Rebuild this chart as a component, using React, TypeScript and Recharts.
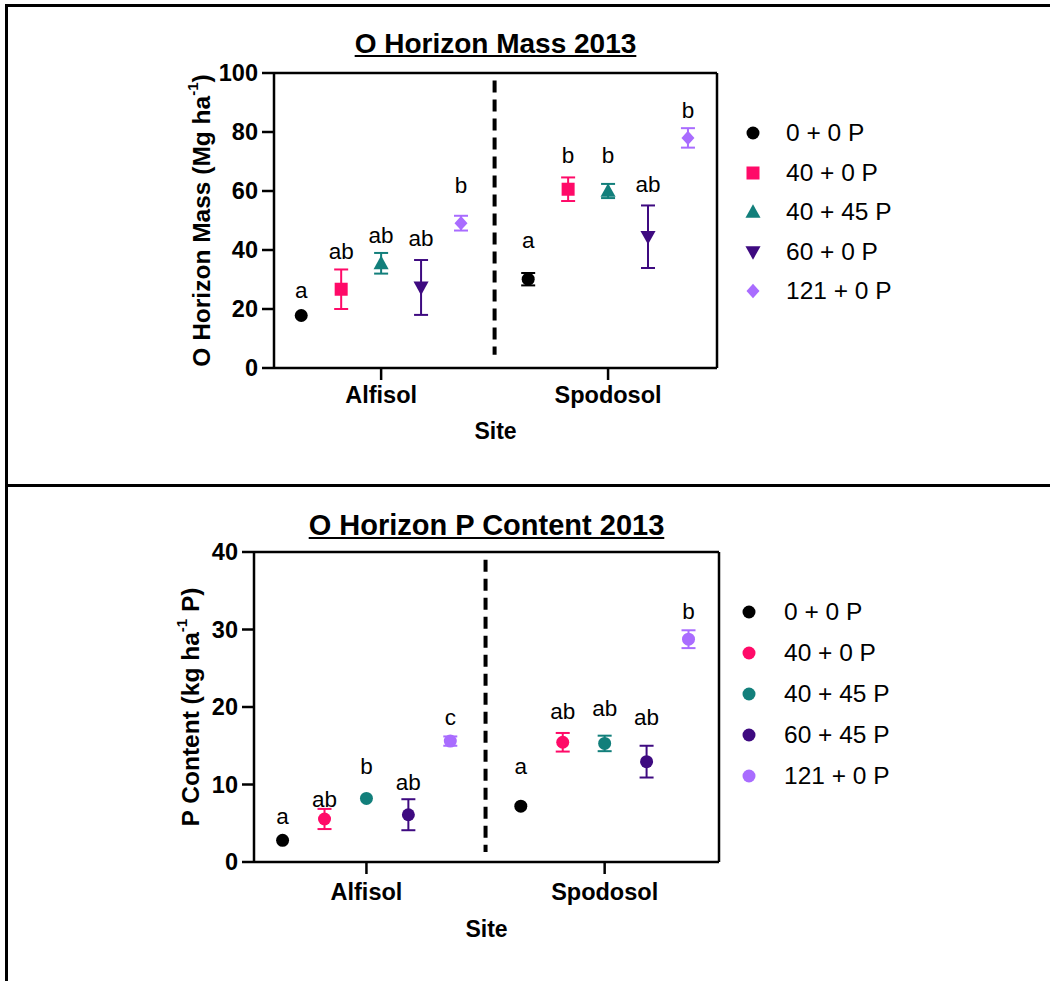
import React from 'react';
import { ScatterChart, Scatter, XAxis, YAxis, ErrorBar, ReferenceLine, Legend } from 'recharts';

// ---------- shared ----------
const siteNames = ['Alfisol', 'Spodosol'];
const siteTicks = [1, 2];
const treatmentColors = ['#000000', '#FF0A68', '#127F7B', '#3E0A80', '#A96CFF'];

// ---------- top chart: O Horizon Mass 2013 ----------
const massTreatments = ['0 + 0 P', '40 + 0 P', '40 + 45 P', '60 + 0 P', '121 + 0 P'];
const massShapes = ['circle', 'square', 'triangle', 'triangleDown', 'diamond'];
const massAlfisol = [17.8, 26.7, 35.5, 27.3, 49.1];
const massAlfisolErr = [0, 6.7, 3.5, 9.3, 2.5];
const massSpodosol = [30.1, 60.6, 60.0, 44.5, 78.0];
const massSpodosolErr = [2.1, 4.0, 2.4, 10.6, 3.3];
const massAlfisolLetters = ['a', 'ab', 'ab', 'ab', 'b'];
const massSpodosolLetters = ['a', 'b', 'b', 'ab', 'b'];
const massAlfisolLetterY = [23.7, 36.9, 42.3, 41.4, 59.2];
const massSpodosolLetterY = [40.6, 69.6, 69.6, 59.5, 84.6];
const massTicks = [0, 20, 40, 60, 80, 100];

// ---------- bottom chart: O Horizon P Content 2013 ----------
const pTreatments = ['0 + 0 P', '40 + 0 P', '40 + 45 P', '60 + 45 P', '121 + 0 P'];
const pShapes = ['circle', 'circle', 'circle', 'circle', 'circle'];
const pAlfisol = [2.8, 5.55, 8.2, 6.1, 15.6];
const pAlfisolErr = [0, 1.3, 0, 2.0, 0.6];
const pSpodosol = [7.2, 15.45, 15.3, 12.95, 28.75];
const pSpodosolErr = [0, 1.2, 1.0, 2.05, 1.15];
const pAlfisolLetters = ['a', 'ab', 'b', 'ab', 'c'];
const pSpodosolLetters = ['a', 'ab', 'ab', 'ab', 'b'];
const pAlfisolLetterY = [4.95, 7.1, 11.3, 9.25, 17.7];
const pSpodosolLetterY = [11.3, 18.5, 18.8, 17.7, 31.3];
const pTicks = [0, 10, 20, 30, 40];

const FONT = '"Liberation Sans", Arial, Helvetica, sans-serif';
const GROUP_STEP = 0.176;
const X_DOMAIN: [number, number] = [0.528, 2.48];

function Marker({ kind, cx, cy, color, s }: any) {
  if (cx == null || cy == null) return null;
  switch (kind) {
    case 'square':
      return <rect x={cx - s / 2} y={cy - s / 2} width={s} height={s} fill={color} />;
    case 'triangle':
      return (
        <polygon
          points={`${cx},${cy - s * 0.6} ${cx + s * 0.58},${cy + s * 0.45} ${cx - s * 0.58},${cy + s * 0.45}`}
          fill={color}
        />
      );
    case 'triangleDown':
      return (
        <polygon
          points={`${cx},${cy + s * 0.6} ${cx + s * 0.58},${cy - s * 0.45} ${cx - s * 0.58},${cy - s * 0.45}`}
          fill={color}
        />
      );
    case 'diamond':
      return (
        <polygon
          points={`${cx},${cy - s * 0.55} ${cx + s * 0.5},${cy} ${cx},${cy + s * 0.55} ${cx - s * 0.5},${cy}`}
          fill={color}
        />
      );
    default:
      return <circle cx={cx} cy={cy} r={s / 2} fill={color} />;
  }
}

function buildSeries(alf: number[], alfErr: number[], spo: number[], spoErr: number[]) {
  return alf.map((_, i) => [
    { x: siteTicks[0] + (i - 2) * GROUP_STEP, y: alf[i], err: alfErr[i] },
    { x: siteTicks[1] + (i - 2) * GROUP_STEP, y: spo[i], err: spoErr[i] },
  ]);
}

function buildLetters(alfL: string[], alfY: number[], spoL: string[], spoY: number[]) {
  const out: any[] = [];
  alfL.forEach((t, i) => out.push({ x: siteTicks[0] + (i - 2) * GROUP_STEP, y: alfY[i], t }));
  spoL.forEach((t, i) => out.push({ x: siteTicks[1] + (i - 2) * GROUP_STEP, y: spoY[i], t }));
  return out;
}

function LetterShape(p: any) {
  const t = p.payload?.t ?? p.t;
  return (
    <text x={p.cx} y={p.cy} textAnchor="middle" fontSize={22.5} fontFamily={FONT} fill="#000">
      {t}
    </text>
  );
}

function makeLegend(names: string[], shapes: string[], left: number, top: number, rowH: number, gap: number) {
  return (
    <Legend
      layout="vertical"
      align="center"
      verticalAlign="middle"
      wrapperStyle={{ position: 'absolute', left, top, width: 240 }}
      content={() => (
        <div style={{ fontFamily: FONT }}>
          {names.map((n, i) => (
            <div key={n} style={{ height: rowH, display: 'flex', alignItems: 'center' }}>
              <svg width={26} height={26} style={{ display: 'block' }}>
                <Marker kind={shapes[i]} cx={13} cy={13} color={treatmentColors[i]} s={13} />
              </svg>
              <span style={{ marginLeft: gap, fontSize: 24.5, color: '#000', whiteSpace: 'pre' }}>{n}</span>
            </div>
          ))}
        </div>
      )}
    />
  );
}

function YTitle({ viewBox, cx, main, tail }: any) {
  const vb = viewBox || {};
  const cy = vb.y + vb.height / 2;
  return (
    <text
      x={cx}
      y={cy}
      transform={`rotate(-90, ${cx}, ${cy})`}
      textAnchor="middle"
      dominantBaseline="central"
      fontSize={24.5}
      fontWeight="bold"
      fontFamily={FONT}
      fill="#000"
    >
      <tspan>{main}</tspan>
      <tspan dy={-9} fontSize={15}>-1</tspan>
      <tspan dy={9}>{tail}</tspan>
    </text>
  );
}

const axisStroke = { stroke: '#000', strokeWidth: 2.5 };
const tickStyle = { fill: '#000', fontSize: 23.5, fontWeight: 'bold', fontFamily: FONT };

function Panel({
  width, height, margin, series, shapes, names, letters, yDomain, yTicks, dashTop, dashBottom,
  yTitleX, yMain, yTail, legendLeft, legendTop, legendRowH, legendGap, siteOffset, xTickMargin,
}: any) {
  return (
    <ScatterChart width={width} height={height} margin={margin}>
      <XAxis
        type="number"
        dataKey="x"
        domain={X_DOMAIN}
        allowDataOverflow
        ticks={siteTicks}
        tickFormatter={(v: number) => siteNames[siteTicks.indexOf(v)] ?? ''}
        axisLine={axisStroke}
        tickLine={axisStroke}
        tickSize={12}
        tickMargin={xTickMargin}
        tick={tickStyle}
        height={30}
        label={{
          value: 'Site',
          position: 'bottom',
          offset: siteOffset,
          style: { fill: '#000', fontSize: 23, fontWeight: 'bold', fontFamily: FONT },
        }}
      />
      <YAxis
        type="number"
        dataKey="y"
        domain={yDomain}
        allowDataOverflow
        ticks={yTicks}
        axisLine={axisStroke}
        tickLine={axisStroke}
        tickSize={12}
        tickMargin={4}
        tick={tickStyle}
        width={60}
        label={{ content: (p: any) => <YTitle viewBox={p.viewBox} cx={yTitleX} main={yMain} tail={yTail} /> }}
      />
      <ReferenceLine y={yDomain[1]} stroke="#000" strokeWidth={2.5} />
      <ReferenceLine x={X_DOMAIN[1]} stroke="#000" strokeWidth={2.5} />
      <ReferenceLine
        segment={[{ x: 1.5, y: dashTop }, { x: 1.5, y: dashBottom }]}
        stroke="#000"
        strokeWidth={4}
        strokeDasharray="12 7"
      />
      {series.map((data: any[], i: number) => (
        <Scatter
          key={names[i]}
          name={names[i]}
          data={data}
          isAnimationActive={false}
          shape={(p: any) => <Marker kind={shapes[i]} cx={p.cx} cy={p.cy} color={treatmentColors[i]} s={13} />}
        >
          <ErrorBar dataKey="err" direction="y" width={7} stroke={treatmentColors[i]} strokeWidth={2} />
        </Scatter>
      ))}
      <Scatter name="letters" data={letters} isAnimationActive={false} shape={LetterShape} legendType="none" />
      {makeLegend(names, shapes, legendLeft, legendTop, legendRowH, legendGap)}
    </ScatterChart>
  );
}

function Title({ text, cx, top, size }: any) {
  return (
    <div
      style={{
        position: 'absolute',
        left: cx - 300,
        width: 600,
        top,
        textAlign: 'center',
        fontFamily: FONT,
        fontWeight: 'bold',
        fontSize: size,
        textDecoration: 'underline',
        color: '#000',
        lineHeight: '32px',
      }}
    >
      {text}
    </div>
  );
}

export default function App() {
  const massSeries = buildSeries(massAlfisol, massAlfisolErr, massSpodosol, massSpodosolErr);
  const massLetters = buildLetters(massAlfisolLetters, massAlfisolLetterY, massSpodosolLetters, massSpodosolLetterY);
  const pSeries = buildSeries(pAlfisol, pAlfisolErr, pSpodosol, pSpodosolErr);
  const pLetters = buildLetters(pAlfisolLetters, pAlfisolLetterY, pSpodosolLetters, pSpodosolLetterY);

  return (
    <div style={{ position: 'relative', width: 1050, height: 981, background: '#fff', overflow: 'hidden' }}>
      <style>{'body{margin:0;background:#fff}'}</style>
      {/* table borders */}
      <div style={{ position: 'absolute', left: 5, top: 4, width: 1045, height: 3, background: '#000' }} />
      <div style={{ position: 'absolute', left: 5, top: 4, width: 3, height: 977, background: '#000' }} />
      <div style={{ position: 'absolute', left: 5, top: 484, width: 1045, height: 3, background: '#000' }} />

      <div style={{ position: 'absolute', left: 0, top: 0, width: 1050, height: 486 }}>
        <Panel
          width={1050}
          height={486}
          margin={{ top: 73, right: 333, left: 214, bottom: 88 }}
          series={massSeries}
          shapes={massShapes}
          names={massTreatments}
          letters={massLetters}
          yDomain={[0, 100]}
          yTicks={massTicks}
          dashTop={97.5}
          dashBottom={4.5}
          yTitleX={201}
          yMain="O Horizon Mass (Mg ha"
          yTail=")"
          legendLeft={740}
          legendTop={113.5}
          legendRowH={39.5}
          legendGap={20}
          siteOffset={25}
          xTickMargin={6}
        />
        <Title text="O Horizon Mass 2013" cx={495.5} top={28} size={28} />
      </div>

      <div style={{ position: 'absolute', left: 0, top: 486, width: 1050, height: 495 }}>
        <Panel
          width={1050}
          height={495}
          margin={{ top: 66, right: 331, left: 194, bottom: 89 }}
          series={pSeries}
          shapes={pShapes}
          names={pTreatments}
          letters={pLetters}
          yDomain={[0, 40]}
          yTicks={pTicks}
          dashTop={39}
          dashBottom={1.3}
          yTitleX={190}
          yMain="P Content (kg ha"
          yTail=" P)"
          legendLeft={736}
          legendTop={105}
          legendRowH={41}
          legendGap={22}
          siteOffset={29}
          xTickMargin={9}
        />
        <Title text="O Horizon P Content 2013" cx={486.5} top={23} size={29} />
      </div>
    </div>
  );
}
